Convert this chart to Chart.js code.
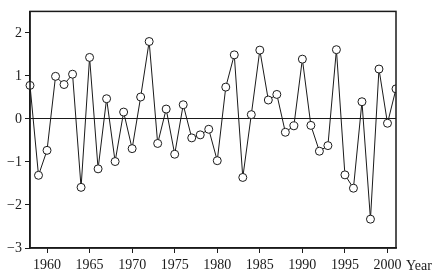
<!DOCTYPE html>
<html>
<head>
<meta charset="utf-8">
<script src="https://cdn.jsdelivr.net/npm/chart.js@4"></script>
<style>
  html, body { margin: 0; padding: 0; background: #fff; }
  #wrap { width: 442px; height: 275px; }
</style>
</head>
<body>
<div id="wrap"><canvas id="myChart"></canvas></div>
<script>
const years = [1958, 1959, 1960, 1961, 1962, 1963, 1964, 1965, 1966, 1967,
    1968, 1969, 1970, 1971, 1972, 1973, 1974, 1975, 1976, 1977,
    1978, 1979, 1980, 1981, 1982, 1983, 1984, 1985, 1986, 1987,
    1988, 1989, 1990, 1991, 1992, 1993, 1994, 1995, 1996, 1997,
    1998, 1999, 2000, 2001];
const values = [0.78, -1.31, -0.73, 0.99, 0.80, 1.04, -1.59, 1.43, -1.16, 0.47,
    -0.99, 0.16, -0.69, 0.51, 1.80, -0.57, 0.23, -0.82, 0.33, -0.44,
    -0.37, -0.24, -0.97, 0.74, 1.49, -1.36, 0.10, 1.60, 0.44, 0.57,
    -0.31, -0.16, 1.39, -0.15, -0.75, -0.62, 1.61, -1.30, -1.61, 0.40,
    -2.33, 1.16, -0.10, 0.70];
const xTicks = [1960, 1965, 1970, 1975, 1980, 1985, 1990, 1995, 2000];
const yTicks = [-3, -2, -1, 0, 1, 2];

const ctx = document.getElementById('myChart').getContext('2d');
const ink = '#1a1a1a';
const serif = "'Liberation Serif', 'Times New Roman', serif";

// frame round the plot area and the "Year" label
const framePlugin = {
    id: 'frame',
    afterDraw(chart) {
        const { ctx, chartArea: a } = chart;
        ctx.save();
        ctx.strokeStyle = ink;
        ctx.lineWidth = 1.5;
        ctx.strokeRect(a.left, a.top, a.right - a.left, a.bottom - a.top);
        ctx.fillStyle = ink;
        ctx.font = "14px " + serif;
        ctx.textBaseline = 'middle';
        ctx.fillText('Year', a.right + 10, a.bottom + 18);
        ctx.restore();
    }
};

new Chart(ctx, {
    type: 'line',
    data: {
        datasets: [{
            data: years.map((y, i) => ({ x: y, y: values[i] })),
            borderColor: ink,
            borderWidth: 1,
            pointRadius: 4,
            pointBackgroundColor: '#fff',
            pointBorderColor: ink,
            pointBorderWidth: 1,
            tension: 0,
            clip: { left: 5, top: 5, right: 0, bottom: 5 }
        }]
    },
    options: {
        responsive: true,
        maintainAspectRatio: false,
        animation: false,
        layout: { padding: { top: 1, right: 46, bottom: 0, left: 0 } },
        plugins: { legend: { display: false }, tooltip: { enabled: false } },
        scales: {
            x: {
                type: 'linear',
                min: 1958,
                max: 2001,
                afterBuildTicks: (s) => { s.ticks = xTicks.map(v => ({ value: v })); },
                afterFit: (s) => { s.height = 27; },
                grid: { color: 'transparent', tickColor: ink, tickLength: 5, drawOnChartArea: false },
                border: { color: ink, width: 1.5 },
                ticks: {
                    color: ink,
                    padding: 4,
                    maxRotation: 0,
                    autoSkip: false,
                    font: { family: serif, size: 14 },
                    callback: (v) => String(v)
                }
            },
            y: {
                min: -3,
                max: 2.5,
                afterBuildTicks: (s) => { s.ticks = yTicks.map(v => ({ value: v })); },
                afterFit: (s) => { s.width = 30; },
                grid: {
                    color: (c) => (c.tick && c.tick.value === 0 ? ink : 'transparent'),
                    tickColor: ink,
                    tickLength: 5,
                    lineWidth: 1
                },
                border: { color: ink, width: 1.5 },
                ticks: {
                    color: ink,
                    padding: 3,
                    font: { family: serif, size: 14 },
                    callback: (v) => (v < 0 ? '\u2212' + Math.abs(v) : String(v))
                }
            }
        }
    },
    plugins: [framePlugin]
});
</script>
</body>
</html>
